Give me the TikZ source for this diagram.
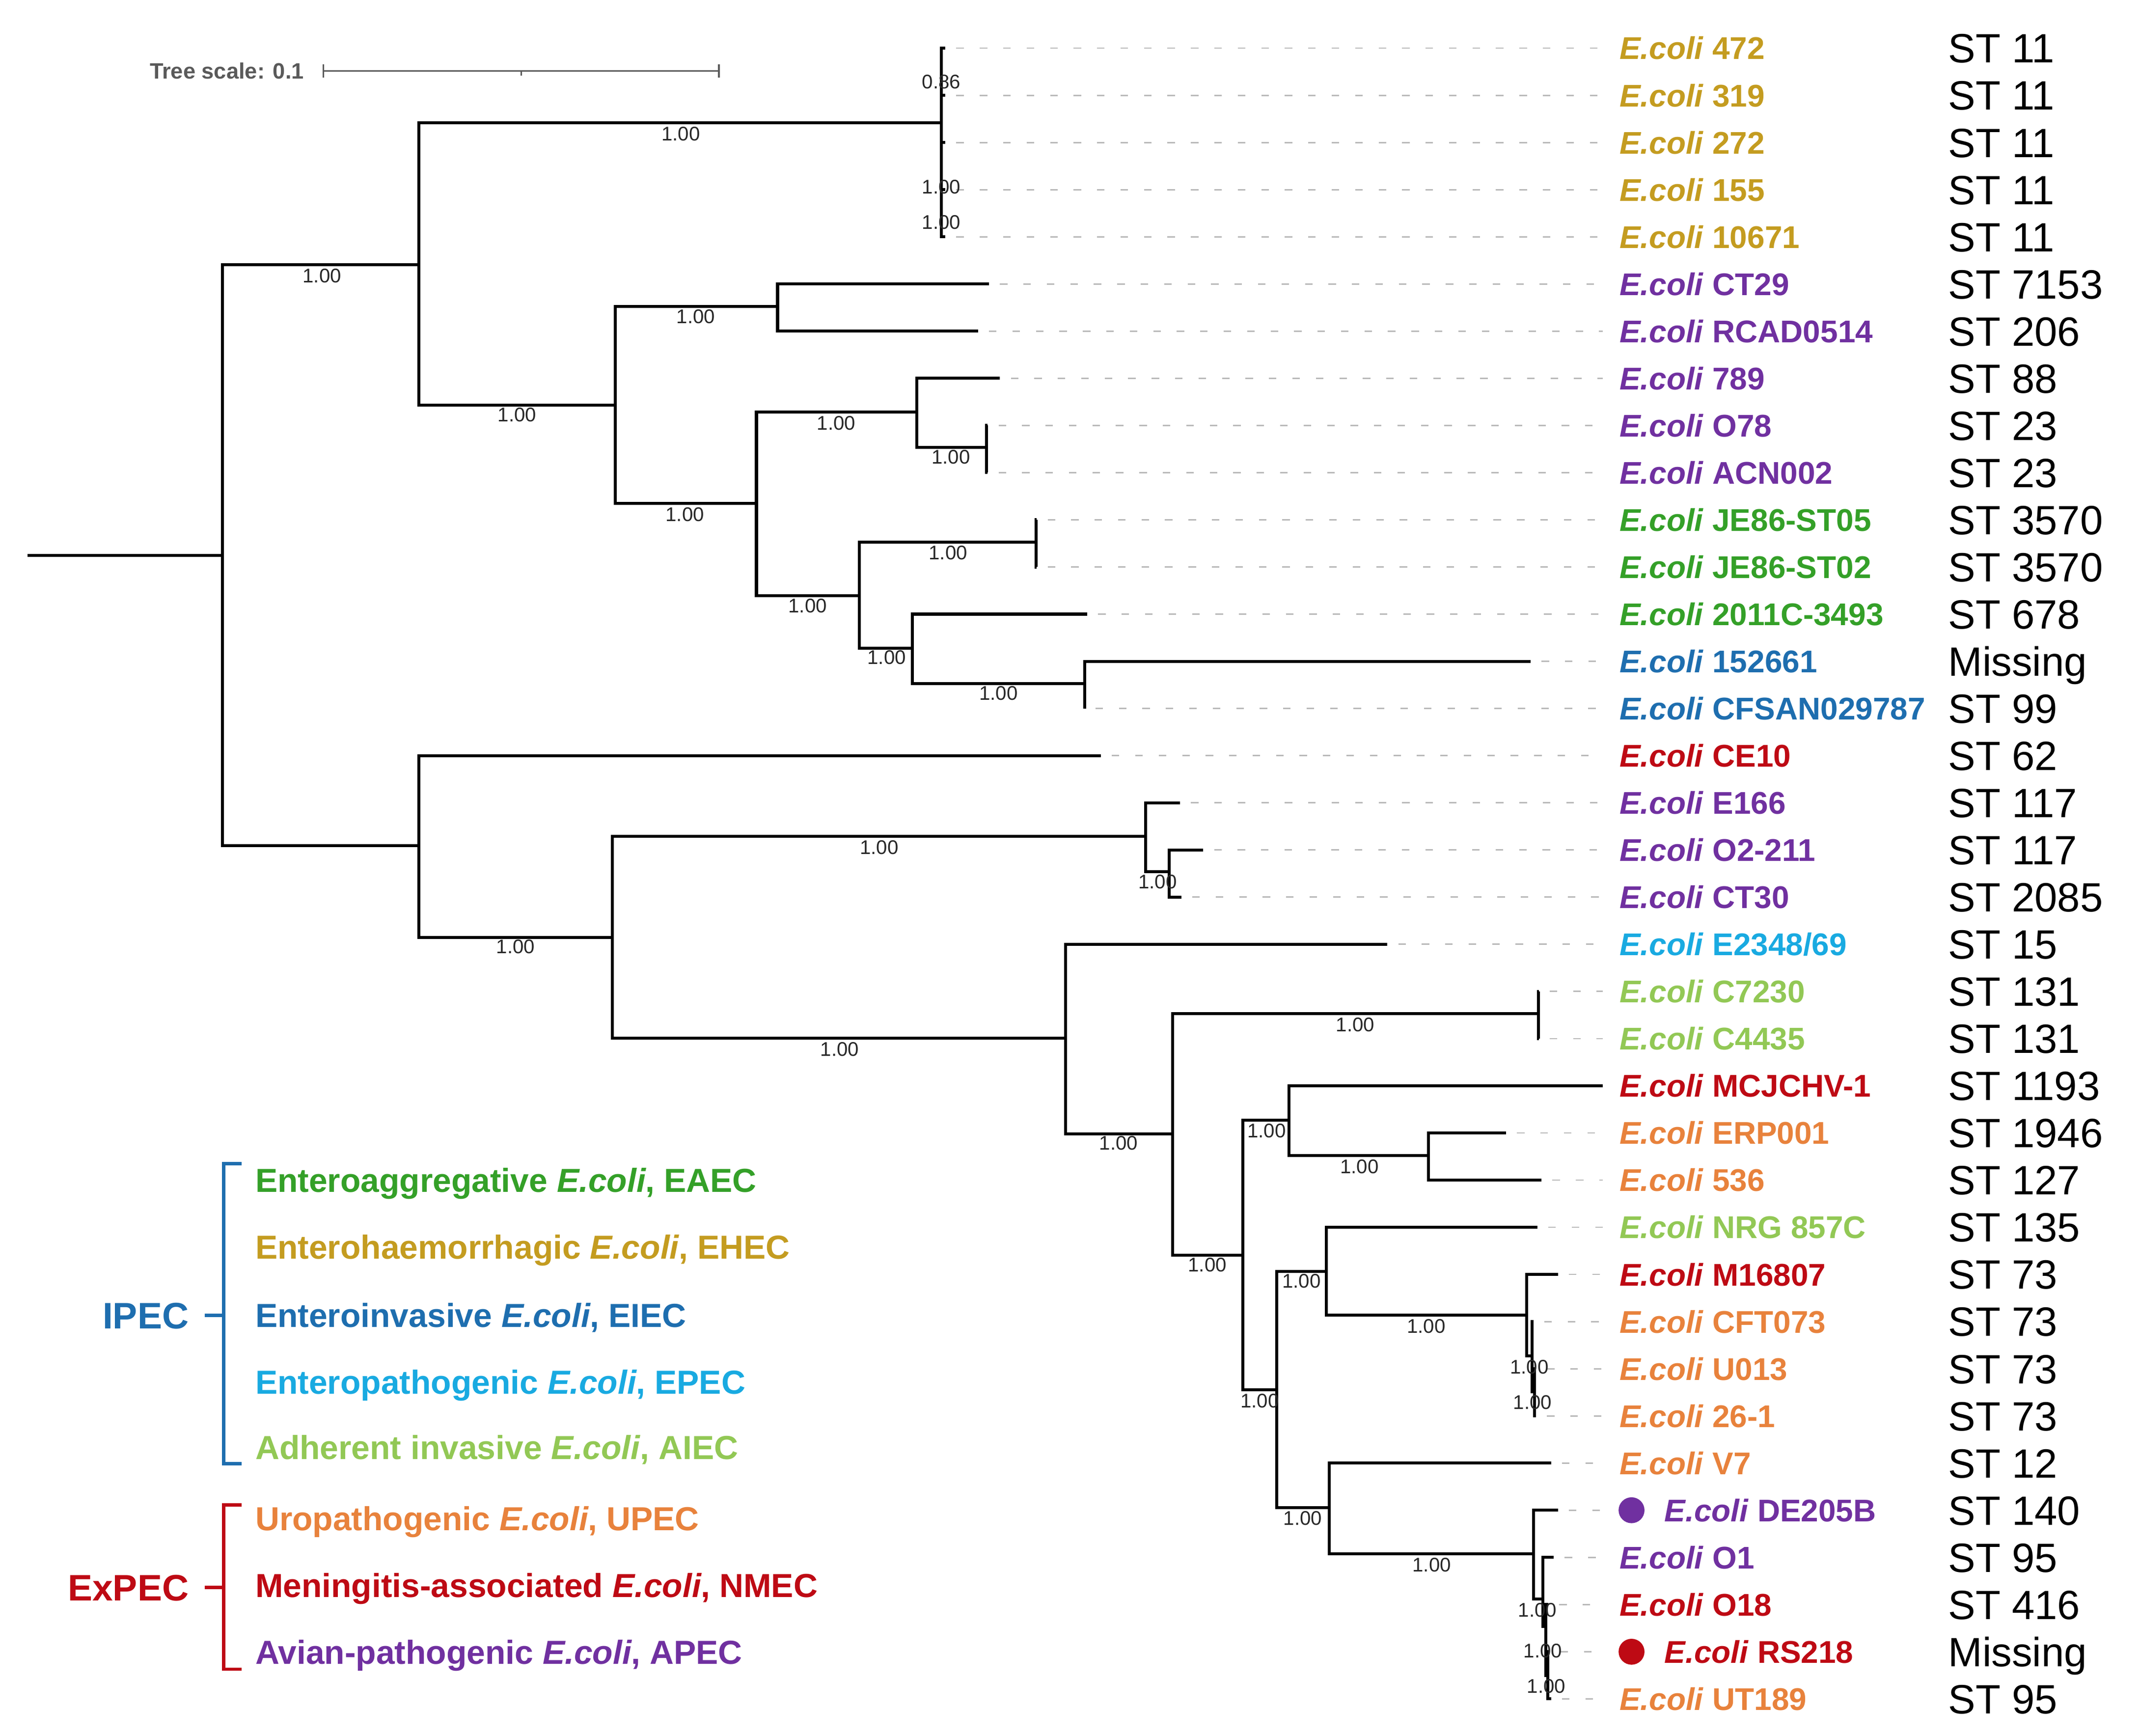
\documentclass[tikz,border=0pt]{standalone}
\usepackage{fontspec}
\setmainfont{Liberation Sans}
\definecolor{ehec}{RGB}{196,156,32}
\definecolor{apec}{RGB}{112,48,160}
\definecolor{eaec}{RGB}{52,160,40}
\definecolor{eiec}{RGB}{30,110,175}
\definecolor{epec}{RGB}{25,170,225}
\definecolor{aiec}{RGB}{146,200,85}
\definecolor{upec}{RGB}{232,130,60}
\definecolor{nmec}{RGB}{190,10,20}
\definecolor{bsgray}{RGB}{40,40,40}
\definecolor{scgray}{RGB}{90,90,90}
\tikzset{
  br/.style={draw=black, line width=2.2pt},
  dsh/.style={draw=gray!55, line width=1pt, dash pattern=on 5.5pt off 11.7pt, shorten <=8pt, shorten >=12pt},
  lab/.style={anchor=west, inner sep=0pt, font=\bfseries\fontsize{23}{23}\selectfont, text height=16.5pt, text depth=0pt},
  stl/.style={anchor=west, inner sep=0pt, font=\fontsize{30}{30}\selectfont, text height=21.5pt, text depth=0pt},
  bs/.style={inner sep=0pt, font=\fontsize{14.5}{14.5}\selectfont, text=bsgray},
  leg/.style={anchor=west, inner sep=0pt, font=\bfseries\fontsize{24.4}{24.4}\selectfont, text height=17.5pt, text depth=0pt},
  grp/.style={anchor=east, inner sep=0pt, font=\bfseries\fontsize{27}{27}\selectfont, text height=19.4pt, text depth=0pt},
  brk/.style={line width=2.5pt},
  tipdot/.style={circle, inner sep=0pt, minimum size=19pt}
}
\newcommand\mkleaf[5]{%
  \coordinate (t#1) at (#2,{35.3+34.57*#1});
  \node[lab,text=#4] (n#1) at (1187,{35.3+34.57*#1}) {\textit{E.coli} #3};
  \node[stl] (s#1) at (1428,{35.3+34.57*#1}) {#5};
}
\newcommand\mkdotleaf[6]{%
  \coordinate (t#1) at (#2,{35.3+34.57*#1});
  \node[tipdot,fill=#6] (d#1) at (1196,{35.3+34.57*#1}) {};
  \node[lab,text=#4] (n#1) at (1220,{35.3+34.57*#1}) {\textit{E.coli} #3};
  \node[stl] (s#1) at (1428,{35.3+34.57*#1}) {#5};
  \draw[dsh,shorten >=11pt] (t#1) -- (d#1.west);
}
\newcommand\mkdash[1]{\draw[dsh] (t#1) -- (n#1.west);}
\newcommand\mkclade[3]{\draw[br] (#2) -| (#1) |- (#3);}
\begin{document}
\begin{tikzpicture}[x=1pt,y=-1pt]
\fill[white] (0,0) rectangle (1568,1272.4);
\useasboundingbox (0,0) rectangle (1568,1272.4);

% ---------- leaves ----------
\mkleaf{0}{693}{472}{ehec}{ST 11}
\mkleaf{1}{693}{319}{ehec}{ST 11}
\mkleaf{2}{693}{272}{ehec}{ST 11}
\mkleaf{3}{693}{155}{ehec}{ST 11}
\mkleaf{4}{693}{10671}{ehec}{ST 11}
\mkleaf{5}{725}{CT29}{apec}{ST 7153}
\mkleaf{6}{717}{RCAD0514}{apec}{ST 206}
\mkleaf{7}{733}{789}{apec}{ST 88}
\mkleaf{8}{724}{O78}{apec}{ST 23}
\mkleaf{9}{724}{ACN002}{apec}{ST 23}
\mkleaf{10}{760}{JE86-ST05}{eaec}{ST 3570}
\mkleaf{11}{760}{JE86-ST02}{eaec}{ST 3570}
\mkleaf{12}{797}{2011C-3493}{eaec}{ST 678}
\mkleaf{13}{1122}{152661}{eiec}{Missing}
\mkleaf{14}{795}{CFSAN029787}{eiec}{ST 99}
\mkleaf{15}{807}{CE10}{nmec}{ST 62}
\mkleaf{16}{865}{E166}{apec}{ST 117}
\mkleaf{17}{882}{O2-211}{apec}{ST 117}
\mkleaf{18}{866}{CT30}{apec}{ST 2085}
\mkleaf{19}{1017}{E2348/69}{epec}{ST 15}
\mkleaf{20}{1128}{C7230}{aiec}{ST 131}
\mkleaf{21}{1128}{C4435}{aiec}{ST 131}
\mkleaf{22}{1175}{MCJCHV-1}{nmec}{ST 1193}
\mkleaf{23}{1104}{ERP001}{upec}{ST 1946}
\mkleaf{24}{1130}{536}{upec}{ST 127}
\mkleaf{25}{1127}{NRG 857C}{aiec}{ST 135}
\mkleaf{26}{1142}{M16807}{nmec}{ST 73}
\mkleaf{27}{1124}{CFT073}{upec}{ST 73}
\mkleaf{28}{1126}{U013}{upec}{ST 73}
\mkleaf{29}{1126}{26-1}{upec}{ST 73}
\mkleaf{30}{1137}{V7}{upec}{ST 12}
\mkdotleaf{31}{1142}{DE205B}{apec}{ST 140}{apec}
\mkleaf{32}{1139}{O1}{apec}{ST 95}
\mkleaf{33}{1135}{O18}{nmec}{ST 416}
\mkdotleaf{34}{1136}{RS218}{nmec}{Missing}{nmec}
\mkleaf{35}{1137}{UT189}{upec}{ST 95}

\foreach \k in {0,...,21,23,24,25,26,27,28,29,30,32,33,35} {\mkdash{\k}}

% ---------- internal nodes ----------
\coordinate (r0) at (20,407);
\coordinate (A) at (163,407);
\coordinate (B) at (307,194);
\coordinate (Eh) at (690,90);
\coordinate (C) at (451,297);
\coordinate (C1) at (570,224.5);
\coordinate (D) at (554.5,369);
\coordinate (D1) at (672,302);
\coordinate (D1b) at (723,328);
\coordinate (D2) at (630,436.6);
\coordinate (JE) at (759.5,397.5);
\coordinate (D2b) at (668.7,475);
\coordinate (D2c) at (795,501);
\coordinate (E) at (307,620);
\coordinate (F) at (449,687);
\coordinate (F1) at (839.7,613);
\coordinate (F1b) at (857,639);
\coordinate (G) at (781,761);
\coordinate (H) at (859.5,831);
\coordinate (H1) at (1127.7,743);
\coordinate (I) at (911,920);
\coordinate (J) at (945,821);
\coordinate (J1) at (1047,847);
\coordinate (K) at (936,1018.6);
\coordinate (L) at (972.4,932);
\coordinate (M) at (1119,964);
\coordinate (M1) at (1123,994);
\coordinate (M2) at (1125,1020);
\coordinate (N) at (974.5,1105);
\coordinate (O) at (1124,1139);
\coordinate (P) at (1131,1172);
\coordinate (Q) at (1133,1192);
\coordinate (R) at (1134.5,1228);

\draw[br] (r0) -- (A);
\mkclade{A}{B}{E}
\mkclade{B}{Eh}{C}
\draw[br] (t0) -| (Eh) |- (t4);
\draw[br] (Eh |- t1) -- (t1);
\draw[br] (Eh |- t2) -- (t2);
\draw[br] (Eh |- t3) -- (t3);
\mkclade{C}{C1}{D}
\mkclade{C1}{t5}{t6}
\mkclade{D}{D1}{D2}
\mkclade{D1}{t7}{D1b}
\mkclade{D1b}{t8}{t9}
\mkclade{D2}{JE}{D2b}
\mkclade{JE}{t10}{t11}
\mkclade{D2b}{t12}{D2c}
\mkclade{D2c}{t13}{t14}
\mkclade{E}{t15}{F}
\mkclade{F}{F1}{G}
\mkclade{F1}{t16}{F1b}
\mkclade{F1b}{t17}{t18}
\mkclade{G}{t19}{H}
\mkclade{H}{H1}{I}
\mkclade{H1}{t20}{t21}
\mkclade{I}{J}{K}
\mkclade{J}{t22}{J1}
\mkclade{J1}{t23}{t24}
\mkclade{K}{L}{N}
\mkclade{L}{t25}{M}
\mkclade{M}{t26}{M1}
\mkclade{M1}{t27}{M2}
\mkclade{M2}{t28}{t29}
\mkclade{N}{t30}{O}
\mkclade{O}{t31}{P}
\mkclade{P}{t32}{Q}
\mkclade{Q}{t33}{R}
\mkclade{R}{t34}{t35}

% ---------- support values ----------
\node[bs] (b0) at (690,60) {0.86};
\node[bs] (b1) at (690,137) {1.00};
\node[bs] (b2) at (690,163) {1.00};
\node[bs] (b3) at (236,202) {1.00};
\node[bs] (b4) at (499,98) {1.00};
\node[bs] (b5) at (379,304) {1.00};
\node[bs] (b6) at (510,232) {1.00};
\node[bs] (b7) at (502,377) {1.00};
\node[bs] (b8) at (613,310) {1.00};
\node[bs] (b9) at (697,335) {1.00};
\node[bs] (b10) at (695,405) {1.00};
\node[bs] (b11) at (592,444) {1.00};
\node[bs] (b12) at (650,482) {1.00};
\node[bs] (b13) at (732,508) {1.00};
\node[bs] (b14) at (378,694) {1.00};
\node[bs] (b15) at (644.5,621) {1.00};
\node[bs] (b16) at (848.5,646.5) {1.00};
\node[bs] (b17) at (615.5,769) {1.00};
\node[bs] (b18) at (820,838) {1.00};
\node[bs] (b19) at (993.5,751) {1.00};
\node[bs] (b20) at (885,927) {1.00};
\node[bs] (b21) at (928.5,829) {1.00};
\node[bs] (b22) at (996.5,855) {1.00};
\node[bs] (b23) at (923.5,1027) {1.00};
\node[bs] (b24) at (954,939) {1.00};
\node[bs] (b25) at (1045.5,972) {1.00};
\node[bs] (b26) at (1121,1002) {1.00};
\node[bs] (b27) at (1123.5,1028) {1.00};
\node[bs] (b28) at (955,1113) {1.00};
\node[bs] (b29) at (1049.5,1147) {1.00};
\node[bs] (b30) at (1127,1180) {1.00};
\node[bs] (b31) at (1131,1210) {1.00};
\node[bs] (b32) at (1133.5,1236) {1.00};

% ---------- tree scale ----------
\node[anchor=east, inner sep=0pt, font=\bfseries\fontsize{16.3}{16.3}\selectfont, text=scgray] (tsc) at (223,52) {Tree scale: 0.1};
\coordinate (sb0) at (237,52);
\coordinate (sb1) at (527,52);
\coordinate (sbm) at (382,52);
\draw[scgray, line width=1.2pt] (sb0) -- (sb1);
\draw[scgray, line width=1.2pt] ([yshift=5pt]sb0) -- ([yshift=-5pt]sb0);
\draw[scgray, line width=1.2pt] ([yshift=5pt]sb1) -- ([yshift=-5pt]sb1);
\draw[scgray, line width=1.2pt] (sbm) -- ([yshift=-3.5pt]sbm);

% ---------- legend ----------
\draw[eiec, brk] (177,853) -- (164,853) -- (164,1073) -- (177,1073);
\draw[eiec, brk] (150,964) -- (164,964);
\node[grp, text=eiec] (ipec) at (138.5,964) {IPEC};
\draw[nmec, brk] (177,1103) -- (164,1103) -- (164,1223.5) -- (177,1223.5);
\draw[nmec, brk] (150,1163.5) -- (164,1163.5);
\node[grp, text=nmec] (expec) at (138.5,1163.5) {ExPEC};

\node[leg, text=eaec] (g1) at (187,865) {Enteroaggregative \textit{E.coli}, EAEC};
\node[leg, text=ehec] (g2) at (187,914) {Enterohaemorrhagic \textit{E.coli}, EHEC};
\node[leg, text=eiec] (g3) at (187,964) {Enteroinvasive \textit{E.coli}, EIEC};
\node[leg, text=epec] (g4) at (187,1013) {Enteropathogenic \textit{E.coli}, EPEC};
\node[leg, text=aiec] (g5) at (187,1061) {Adherent invasive \textit{E.coli}, AIEC};
\node[leg, text=upec] (g6) at (187,1113) {Uropathogenic \textit{E.coli}, UPEC};
\node[leg, text=nmec] (g7) at (187,1162) {Meningitis-associated \textit{E.coli}, NMEC};
\node[leg, text=apec] (g8) at (187,1211) {Avian-pathogenic \textit{E.coli}, APEC};
\end{tikzpicture}
\end{document}
